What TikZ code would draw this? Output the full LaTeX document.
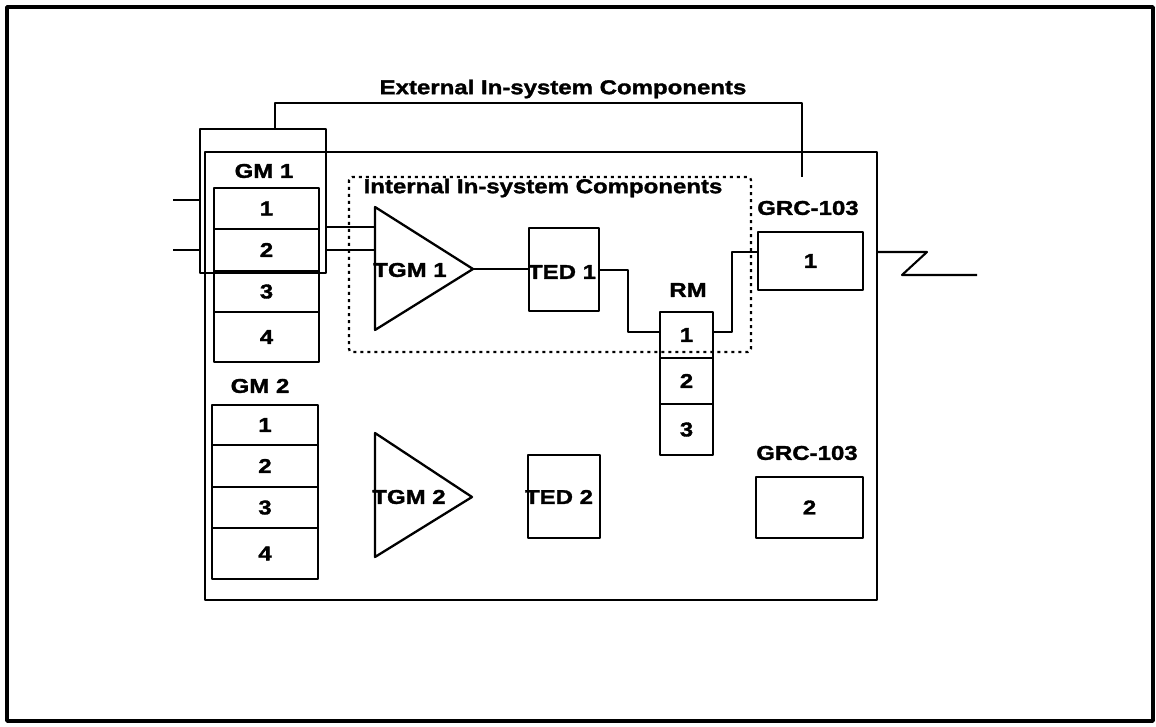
\documentclass[tikz,border=0pt]{standalone}
\usepackage{fontspec}
\newfontfamily\labfont[FakeStretch=1.2,BoldFeatures={FakeBold=1.6}]{Liberation Sans}
\begin{document}
\begin{tikzpicture}[x=1pt,y=-1pt,
  line width=2.3pt, line join=round,
  lbl/.style={inner sep=0pt, font=\labfont\bfseries\fontsize{20}{20}\selectfont},
  cell/.style={draw, rectangle, inner sep=0pt, lbl},
  wire/.style={line width=2.1pt},
  dotbox/.style={line width=2.2pt, dash pattern=on 3pt off 4pt, rounded corners=3pt}]
\useasboundingbox (0,0) rectangle (1156,727);
% outer frame
\draw[line width=3.5pt] (7,7) rectangle (1153,721);

% main system box and GM1 bracket box
\node[draw, rectangle, inner sep=0pt, minimum width=672pt, minimum height=448pt] (sys) at (541,376) {};
\node[draw, rectangle, inner sep=0pt, minimum width=126pt, minimum height=144pt] (gmbr) at (263,201) {};

% external connector
\coordinate (extL) at (275,103);
\coordinate (extR) at (802,103);
\coordinate (extEnd) at (802,177);
\draw[wire] (gmbr.north -| extL) -- (extL) -- (extR) -- (extEnd);
\node[lbl] (extlbl) at (563,89) {External In-system Components};

% internal dotted box
\draw[dotbox] (349,177) rectangle (751,352);
\node[lbl] (intlbl) at (543,188) {Internal In-system Components};

% GM 1
\node[lbl] (gm1lbl) at (264,171) {GM 1};
\node[cell, minimum width=105pt, minimum height=41pt] (g11) at (266.5,208.5) {1};
\node[cell, minimum width=105pt, minimum height=42pt] (g12) at (266.5,250) {2};
\node[cell, minimum width=105pt, minimum height=41pt] (g13) at (266.5,291.5) {3};
\node[cell, minimum width=105pt, minimum height=50pt] (g14) at (266.5,337) {4};

% GM 2
\node[lbl] (gm2lbl) at (260,386) {GM 2};
\node[cell, minimum width=106pt, minimum height=40pt] (g21) at (265,425) {1};
\node[cell, minimum width=106pt, minimum height=42pt] (g22) at (265,466) {2};
\node[cell, minimum width=106pt, minimum height=41pt] (g23) at (265,507.5) {3};
\node[cell, minimum width=106pt, minimum height=51pt] (g24) at (265,553.5) {4};

% input lines
\coordinate (inA) at (173,200);
\coordinate (inB) at (173,250);
\draw[wire] (inA) -- (gmbr.west |- inA);
\draw[wire] (inB) -- (gmbr.west |- inB);

% TGM 1 triangle
\coordinate (t1a) at (375,207);
\coordinate (t1b) at (375,330);
\coordinate (t1tip) at (473,269);
\draw (t1a) -- (t1tip) -- (t1b) -- cycle;
\node[lbl] (tgm1) at (410,270) {TGM 1};
\coordinate (yA) at (0,227);
\coordinate (yB) at (0,250);
\draw[wire] (gmbr.east |- yA) -- (t1a |- yA);
\draw[wire] (gmbr.east |- yB) -- (t1a |- yB);

% TGM 2 triangle
\coordinate (t2a) at (375,433);
\coordinate (t2b) at (375,557);
\coordinate (t2tip) at (472,497);
\draw (t2a) -- (t2tip) -- (t2b) -- cycle;
\node[lbl] (tgm2) at (409,497) {TGM 2};

% TED boxes
\node[draw, rectangle, inner sep=0pt, minimum width=70pt, minimum height=83pt] (ted1) at (564,269.5) {};
\node[lbl] (ted1lbl) at (562,272) {TED 1};
\node[draw, rectangle, inner sep=0pt, minimum width=72pt, minimum height=83pt] (ted2) at (564,496.5) {};
\node[lbl] (ted2lbl) at (559,497) {TED 2};
\draw[wire] (t1tip) -- (ted1.west |- t1tip);

% RM
\node[lbl] (rmlbl) at (688,290) {RM};
\node[cell, minimum width=53pt, minimum height=46pt] (rm1) at (686.5,335) {1};
\node[cell, minimum width=53pt, minimum height=46pt] (rm2) at (686.5,381) {2};
\node[cell, minimum width=53pt, minimum height=51pt] (rm3) at (686.5,429.5) {3};
\coordinate (bendA) at (628,270);
\coordinate (yR) at (0,332);
\draw[wire] (ted1.east |- bendA) -- (bendA) -- (bendA |- yR) -- (rm1.west |- yR);
\coordinate (bendB) at (732,252);
\draw[wire] (rm1.east |- yR) -- (bendB |- yR) -- (bendB) -- (758,252);

% GRC-103
\node[lbl] (grc1lbl) at (808,208) {GRC-103};
\node[cell, minimum width=105pt, minimum height=58pt] (grc1) at (810.5,261) {1};
\node[lbl] (grc2lbl) at (807,453) {GRC-103};
\node[cell, minimum width=107pt, minimum height=61pt] (grc2) at (809.5,507.5) {2};

% antenna zigzag
\coordinate (zA) at (927,252);
\coordinate (zB) at (902,275);
\coordinate (zC) at (977,275);
\draw[wire] (sys.east |- zA) -- (zA) -- (zB) -- (zC);
\end{tikzpicture}
\end{document}
